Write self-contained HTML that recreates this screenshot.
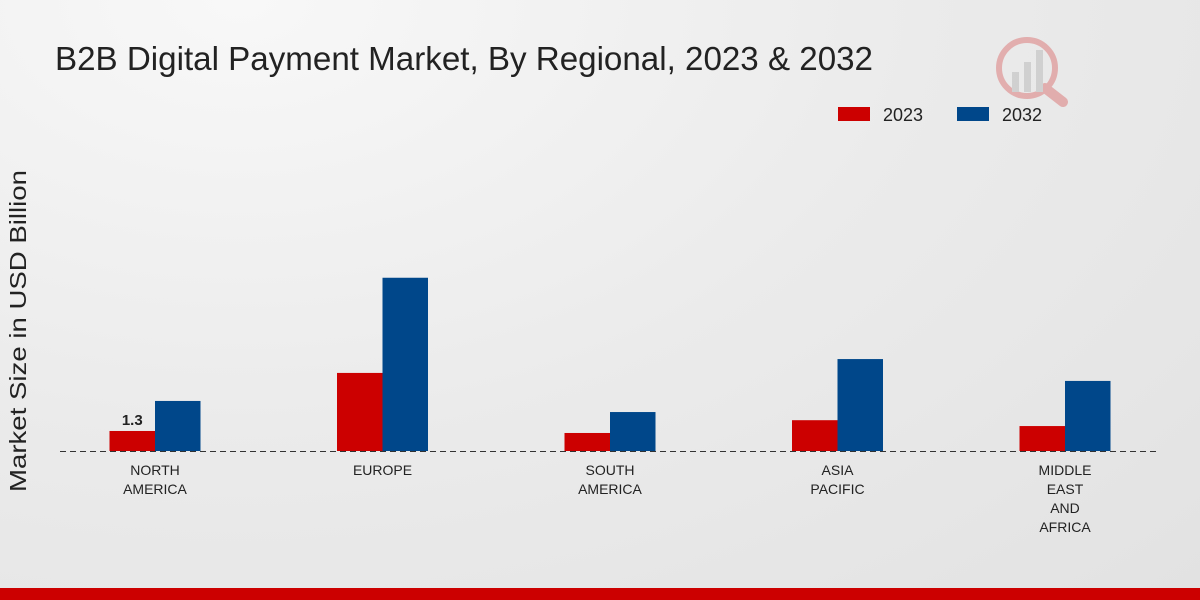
<!DOCTYPE html>
<html><head><meta charset="utf-8"><style>
body{margin:0;width:1200px;height:600px;overflow:hidden;font-family:"Liberation Sans","DejaVu Sans",sans-serif;}
#bg{position:absolute;left:0;top:0;width:1200px;height:600px;background:radial-gradient(ellipse at 20% 0%,#f8f8f8 0%,#ebebeb 50%,#e2e2e2 100%);}
</style></head><body>
<div id="bg"></div>
<svg id="c" width="1200" height="600" style="position:absolute;left:0;top:0">
<text x="55" y="70" font-size="33" fill="#222" textLength="818" lengthAdjust="spacingAndGlyphs">B2B Digital Payment Market, By Regional, 2023 &amp; 2032</text>
<g opacity="0.25">
<circle cx="1027" cy="68" r="28" fill="none" stroke="#c00" stroke-width="6"/>
<line x1="1045" y1="88" x2="1063" y2="102" stroke="#c00" stroke-width="10" stroke-linecap="round"/>
<rect x="1012" y="72" width="7" height="20" fill="#888"/><rect x="1024" y="62" width="7" height="30" fill="#888"/><rect x="1036" y="50" width="7" height="42" fill="#888"/>
</g>
<g>
<rect x="838" y="107" width="32" height="14" fill="#cc0000"/>
<text x="883" y="121" font-size="18" fill="#222">2023</text>
<rect x="957" y="107" width="32" height="14" fill="#00478a"/>
<text x="1002" y="121" font-size="18" fill="#222">2032</text>
</g>
<text transform="translate(26,331) rotate(-90)" text-anchor="middle" font-size="23" fill="#222" textLength="322" lengthAdjust="spacingAndGlyphs">Market Size in USD Billion</text>
<line x1="60" y1="451.5" x2="1160" y2="451.5" stroke="#333" stroke-dasharray="6,4"/>
<g id="bars"></g>
</svg>
<div style="position:absolute;left:0;top:588px;width:1200px;height:12px;background:#cc0000"></div>
<script>
const categories=[["NORTH","AMERICA"],["EUROPE"],["SOUTH","AMERICA"],["ASIA","PACIFIC"],["MIDDLE","EAST","AND","AFRICA"]];
const values2023=[1.3,5.07,1.17,2.0,1.62];
const values2032=[3.25,11.25,2.53,5.97,4.55];
const labels2023=["1.3",null,null,null,null];
const NS="http://www.w3.org/2000/svg";
const g=document.getElementById('bars');
const base=451, pxPer=15.4, x0=155, step=227.5, bw=45.5;
const y=v=>base-v*pxPer;
const xc=i=>x0+i*step;
function mk(tag,attrs){const e=document.createElementNS(NS,tag);for(const k in attrs)e.setAttribute(k,attrs[k]);g.appendChild(e);return e;}
categories.forEach((cat,i)=>{
  const r=mk('rect',{x:xc(i)-bw,y:y(values2023[i]),width:bw,height:base-y(values2023[i]),fill:'#cc0000'});
  
  
  const b=mk('rect',{x:xc(i),y:y(values2032[i]),width:bw,height:base-y(values2032[i]),fill:'#00478a'});
  
  
  if(labels2023[i]){const t=mk('text',{x:xc(i)-bw/2,y:y(values2023[i])-6,'text-anchor':'middle','font-size':15,'font-weight':'bold',fill:'#222'});t.textContent=labels2023[i];
  
  }
  cat.forEach((line,j)=>{const t=mk('text',{x:xc(i),y:475+j*19,'text-anchor':'middle','font-size':14,fill:'#222'});t.textContent=line;
  
  });
});
</script>
</body></html>
